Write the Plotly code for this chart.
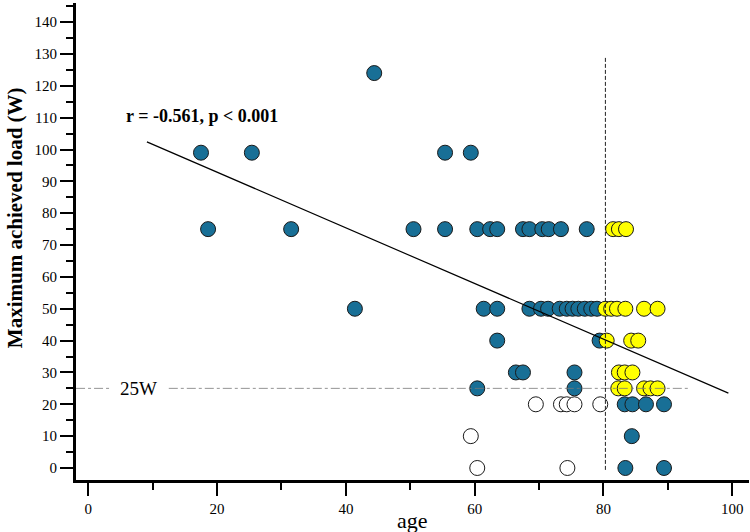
import plotly.graph_objects as go

# ---- data ----
blue_age = [44.4, 17.5, 25.4, 55.4, 59.4,
            18.6, 31.5, 50.5, 55.4, 60.4, 62.4, 63.5, 67.5, 68.5, 70.5, 71.5, 73.4, 77.4,
            41.4, 61.4, 63.5, 68.5, 70.3, 71.4, 73.2, 74.3, 75.2, 76.1, 77.1, 78.1, 79.0,
            63.5, 79.4,
            66.4, 67.5, 75.5,
            60.4, 75.5,
            83.3, 84.5, 86.6, 89.4,
            84.4,
            83.4, 89.4]
blue_load = [124, 99, 99, 99, 99,
             75, 75, 75, 75, 75, 75, 75, 75, 75, 75, 75, 75, 75,
             50, 50, 50, 50, 50, 50, 50, 50, 50, 50, 50, 50, 50,
             40, 40,
             30, 30, 30,
             25, 25,
             20, 20, 20, 20,
             10,
             0, 0]

yellow_age = [81.5, 82.4, 83.5,
              80.3, 81.2, 82.1, 83.4, 86.3, 88.4,
              80.5, 84.3, 85.4,
              82.4, 83.3, 84.5,
              82.3, 83.3, 86.3, 87.3, 88.4]
yellow_load = [75, 75, 75,
               50, 50, 50, 50, 50, 50,
               40, 40, 40,
               30, 30, 30,
               25, 25, 25, 25, 25]

open_age = [69.5, 73.4, 74.3, 75.5, 79.5, 59.4, 60.4, 74.4]
open_load = [20, 20, 20, 20, 20, 10, 0, 0]

reg_x = [9.1, 99.4]
reg_y = [102.4, 23.5]

x_ticks = [0, 20, 40, 60, 80, 100]
y_ticks = list(range(0, 150, 10))

stat_text = "r = -0.561, p < 0.001"
ref_text = "25W"
ref_load = 25
cut_age = 80.3

FONT = "Liberation Serif"
BLUE = "#186f96"
YELLOW = "#ffff00"
EDGE = "#1a1a1a"


def sorted_pts(xs, ys):
    pts = sorted(zip(xs, ys))
    return [p[0] for p in pts], [p[1] for p in pts]


fig = go.Figure()
for xs, ys, col in [(open_age, open_load, "white"),
                    (blue_age, blue_load, BLUE),
                    (yellow_age, yellow_load, YELLOW)]:
    sx, sy = sorted_pts(xs, ys)
    fig.add_trace(go.Scatter(x=sx, y=sy, mode="markers",
                             marker=dict(size=15, color=col,
                                         line=dict(color=EDGE, width=1)),
                             showlegend=False, hoverinfo="skip"))

fig.add_trace(go.Scatter(x=reg_x, y=reg_y, mode="lines",
                         line=dict(color="black", width=1.2),
                         showlegend=False, hoverinfo="skip"))

# reference lines
fig.add_shape(type="line", x0=-1.9, x1=3.4, y0=ref_load, y1=ref_load,
              line=dict(color="#777777", width=0.8, dash="dashdot"))
fig.add_shape(type="line", x0=12.5, x1=93.3, y0=ref_load, y1=ref_load,
              line=dict(color="#777777", width=0.8, dash="dashdot"))
fig.add_shape(type="line", x0=cut_age, x1=cut_age, y0=-0.6, y1=129,
              line=dict(color="#222222", width=1, dash="4px,2px"))

fig.add_annotation(x=5.5, y=110.5, text="<b>" + stat_text + "</b>", showarrow=False,
                   xanchor="left", yanchor="middle",
                   font=dict(family=FONT, size=18, color="black"))
fig.add_annotation(x=4.6, y=ref_load, text=ref_text, showarrow=False,
                   xanchor="left", yanchor="middle",
                   font=dict(family=FONT, size=19, color="black"))

# axis titles
fig.add_annotation(xref="paper", yref="paper", x=0.5, y=0, yshift=-40,
                   text="age", showarrow=False, xanchor="center", yanchor="middle",
                   font=dict(family=FONT, size=22, color="black"))
fig.add_annotation(xref="paper", yref="paper", x=0, xshift=-61, y=0.549,
                   text="<b>Maximum achieved load (W)</b>", textangle=-90,
                   showarrow=False, xanchor="center", yanchor="middle",
                   font=dict(family=FONT, size=21, color="black"))

axis_common = dict(showline=True, linewidth=3, linecolor="black",
                   showgrid=False, zeroline=False, ticks="outside",
                   ticklen=13, tickwidth=1.5, tickcolor="black",
                   tickfont=dict(family=FONT, size=15, color="black"))

fig.update_xaxes(range=[-1.91, 102.6], tickvals=x_ticks,
                 minor=dict(tickvals=[10, 30, 50, 70, 90], ticks="outside",
                            ticklen=7, tickwidth=1.5, tickcolor="black"),
                 **axis_common)
fig.update_yaxes(range=[-3.77, 146.0], tickvals=y_ticks,
                 minor=dict(tickvals=list(range(5, 150, 10)), ticks="outside",
                            ticklen=7, tickwidth=1.5, tickcolor="black"),
                 **axis_common)

fig.update_layout(width=750, height=532,
                  margin=dict(l=76, r=1, t=3, b=52),
                  paper_bgcolor="white", plot_bgcolor="white",
                  font=dict(family=FONT))

fig.write_html("out.html")
